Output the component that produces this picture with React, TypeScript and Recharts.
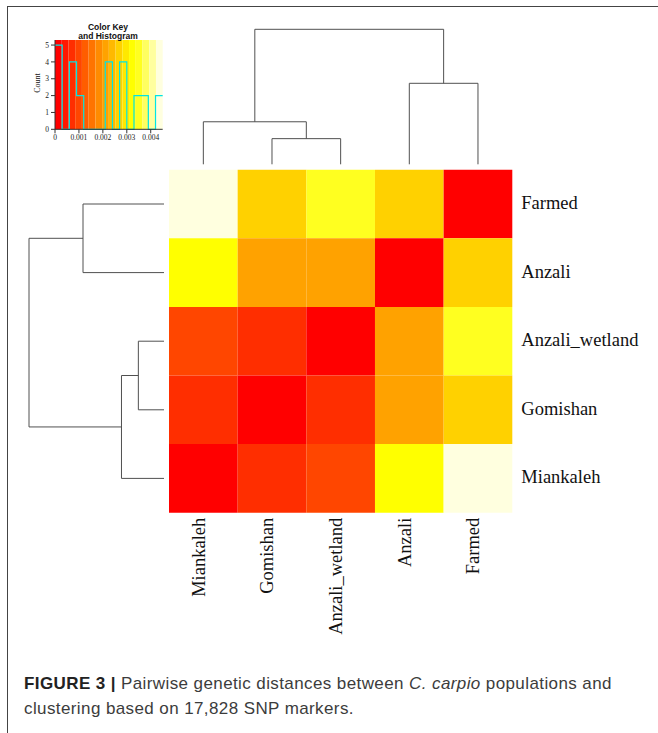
import React from 'react';
import { ComposedChart, Line, XAxis, YAxis, ReferenceArea, Scatter } from 'recharts';

// populations and pairwise genetic distances (symmetric, same order)
const populations = ['Miankaleh', 'Gomishan', 'Anzali_wetland', 'Anzali', 'Farmed'];
const distMiankaleh = [0, 0.0007, 0.001, 0.00336, 0.0045];
const distGomishan = [0.0007, 0, 0.0007, 0.0022, 0.00275];
const distAnzaliWetland = [0.001, 0.0007, 0, 0.0022, 0.00362];
const distAnzali = [0.00336, 0.0022, 0.0022, 0, 0.00275];
const distFarmed = [0.0045, 0.00275, 0.00362, 0.00275, 0];
const distances = [distMiankaleh, distGomishan, distAnzaliWetland, distAnzali, distFarmed];

// leaf order of the heatmap
const colOrder = ['Miankaleh', 'Gomishan', 'Anzali_wetland', 'Anzali', 'Farmed'];
const rowOrder = ['Farmed', 'Anzali', 'Anzali_wetland', 'Gomishan', 'Miankaleh'];

// hierarchical clustering: [id, left, right, height]
const merges: [string, string, string, number][] = [
  ['m1', 'Gomishan', 'Anzali_wetland', 0.19],
  ['m2', 'Miankaleh', 'm1', 0.315],
  ['m3', 'Anzali', 'Farmed', 0.6],
  ['m4', 'm2', 'm3', 1.0],
];

// colour key (heat.colors(16)) and histogram
const keyMax = 0.0045;
const heatColors = [
  '#FF0000', '#FF1700', '#FF2E00', '#FF4600', '#FF5D00', '#FF7400', '#FF8B00', '#FFA200',
  '#FFB900', '#FFD100', '#FFE800', '#FFFF00', '#FFFF20', '#FFFF60', '#FFFF9F', '#FFFFDF',
];
const keyTicks = [0, 0.001, 0.002, 0.003, 0.004];
const countTicks = [0, 1, 2, 3, 4, 5];
const histBreaks = [
  0, 0.0003, 0.0006, 0.0009, 0.0012, 0.0015, 0.0018, 0.0021,
  0.0024, 0.0027, 0.003, 0.0033, 0.0036, 0.0039, 0.0042, 0.0045,
];
const histCounts = [5, 0, 4, 2, 0, 0, 0, 4, 0, 4, 0, 2, 2, 0, 2];

const serif = '"Liberation Serif", "Times New Roman", serif';
const sans = '"Liberation Sans", Arial, sans-serif';
const dendroColor = '#505050';

const colorFor = (v: number) =>
  heatColors[Math.min(heatColors.length - 1, Math.floor((v / keyMax) * heatColors.length))];

const dist = (a: string, b: string) => distances[populations.indexOf(a)][populations.indexOf(b)];

// polylines for a dendrogram, pos = leaf position, h = merge height
function dendroSegments(order: string[]) {
  const nodes: Record<string, { pos: number; h: number }> = {};
  order.forEach((name, i) => (nodes[name] = { pos: i + 0.5, h: 0 }));
  return merges.map(([id, a, b, h]) => {
    const l = nodes[a];
    const r = nodes[b];
    nodes[id] = { pos: (l.pos + r.pos) / 2, h };
    return [
      { pos: l.pos, h: l.h },
      { pos: l.pos, h },
      { pos: r.pos, h },
      { pos: r.pos, h: r.h },
    ];
  });
}

const cells = rowOrder.flatMap((r, ri) =>
  colOrder.map((c, ci) => ({ x: ci + 0.5, y: ri + 0.5, ci, ri, fill: colorFor(dist(r, c)) }))
);
const colSegs = dendroSegments(colOrder).map((s) => s.map((p) => ({ x: p.pos, y: p.h })));
const rowSegs = dendroSegments(rowOrder).map((s) => s.map((p) => ({ x: p.h, y: p.pos })));
const histLine = histBreaks.map((b, i) => ({ x: b, c: histCounts[Math.min(i, histCounts.length - 1)] }));

const ColTick = (props: any) => {
  const { x, y, payload } = props;
  const name = colOrder[Math.floor(payload.value)];
  return (
    <text x={x + 1.5} y={y} transform={`rotate(-90 ${x + 1.5} ${y})`} textAnchor="end"
      fontFamily={serif} fontSize={18.5} fill="#111">
      {name}
    </text>
  );
};

const RowTick = (props: any) => {
  const { x, y, payload } = props;
  const name = rowOrder[Math.floor(payload.value)];
  return (
    <text x={x} y={y + 5} textAnchor="start" fontFamily={serif} fontSize={18.5} fill="#111">
      {name}
    </text>
  );
};

export default function App() {
  const abs = { position: 'absolute' as const, left: 0, top: 0 };
  return (
    <div style={{ position: 'absolute', left: 0, top: 0, width: 658, height: 733, overflow: 'hidden', background: '#fff' }}>
      <div style={{ position: 'absolute', left: 7, top: 5.5, width: 700, height: 800, borderTop: '1.5px solid #444', borderLeft: '1.5px solid #444' }} />

      {/* heatmap */}
      <div style={abs}>
        <ComposedChart width={658} height={650} margin={{ top: 169.7, right: 0, bottom: 0, left: 169 }}>
          <XAxis type="number" dataKey="x" domain={[0, 5]} ticks={colOrder.map((_, i) => i + 0.5)} interval={0}
            height={137.3} axisLine={false} tickLine={false} tickSize={0} tickMargin={5} tick={<ColTick />} />
          <YAxis type="number" dataKey="y" domain={[0, 5]} reversed orientation="right" ticks={rowOrder.map((_, i) => i + 0.5)}
            interval={0} width={145.7} axisLine={false} tickLine={false} tickSize={0} tickMargin={9} tick={<RowTick />} />
          {cells.map((c) => (
            <ReferenceArea key={`${c.ri}-${c.ci}`} x1={c.ci} x2={c.ci + 1} y1={c.ri} y2={c.ri + 1}
              fill={c.fill} fillOpacity={1} stroke="none" />
          ))}
          <Scatter data={cells} shape={() => <g />} isAnimationActive={false} />
        </ComposedChart>
      </div>

      {/* column dendrogram */}
      <div style={abs}>
        <ComposedChart width={658} height={170} margin={{ top: 29.3, right: 145.7, bottom: 5.7, left: 169 }}>
          <XAxis type="number" dataKey="x" domain={[0, 5]} hide height={0} />
          <YAxis type="number" domain={[0, 1]} hide width={0} />
          {colSegs.map((seg, i) => (
            <Line key={i} data={seg} dataKey="y" type="linear" stroke={dendroColor} strokeWidth={1}
              dot={false} activeDot={false} isAnimationActive={false} />
          ))}
        </ComposedChart>
      </div>

      {/* row dendrogram */}
      <div style={abs}>
        <ComposedChart width={170} height={650} margin={{ top: 169.7, right: 6, bottom: 137.3, left: 29 }}>
          <XAxis type="number" dataKey="x" domain={[0, 1]} reversed hide height={0} />
          <YAxis type="number" domain={[0, 5]} reversed hide width={0} />
          {rowSegs.map((seg, i) => (
            <Line key={i} data={seg} dataKey="y" type="linear" stroke={dendroColor} strokeWidth={1}
              dot={false} activeDot={false} isAnimationActive={false} />
          ))}
        </ComposedChart>
      </div>

      {/* colour key */}
      <div style={abs}>
        <ComposedChart width={180} height={155} margin={{ top: 40, right: 17.3, bottom: 5.7, left: 25 }}>
          <XAxis type="number" dataKey="x" domain={[0, keyMax]} ticks={keyTicks} interval={0} height={20}
            tickSize={4} tickMargin={1} stroke="#333" tick={{ fontSize: 7.5, fontFamily: serif, fill: '#222' }}
            tickFormatter={(v: number) => String(v)} />
          <YAxis type="number" domain={[0, 5.3]} ticks={countTicks} interval={0} width={30}
            tickSize={4} tickMargin={2} stroke="#333" tick={{ fontSize: 7.5, fontFamily: serif, fill: '#222' }} />
          {heatColors.map((col, i) => (
            <ReferenceArea key={col} x1={(i * keyMax) / heatColors.length} x2={((i + 1) * keyMax) / heatColors.length}
              y1={0} y2={5.3} fill={col} fillOpacity={1} stroke="none" />
          ))}
          <Line data={histLine} dataKey="c" type="stepAfter" stroke="#00e5e5" strokeWidth={1.2}
            dot={false} activeDot={false} isAnimationActive={false} />
        </ComposedChart>
      </div>
      <div style={{ position: 'absolute', left: 48, top: 23, width: 120, textAlign: 'center', fontFamily: sans,
        fontWeight: 'bold', fontSize: 8.5, lineHeight: '9.4px', color: '#111' }}>
        Color Key<br />and Histogram
      </div>
      <div style={{ position: 'absolute', left: 18, top: 78, width: 40, textAlign: 'center', fontFamily: serif,
        fontSize: 8, lineHeight: '10px', color: '#111', transform: 'rotate(-90deg)' }}>
        Count
      </div>

      {/* caption */}
      <div style={{ position: 'absolute', left: 24, top: 672, fontFamily: sans, fontSize: 17, lineHeight: '24.5px',
        letterSpacing: '0.4px', color: '#3c3c3c', whiteSpace: 'nowrap' }}>
        <b style={{ color: '#222' }}>FIGURE 3 |</b> Pairwise genetic distances between <i>C. carpio</i> populations and
        <br />
        clustering based on 17,828 SNP markers.
      </div>
    </div>
  );
}
